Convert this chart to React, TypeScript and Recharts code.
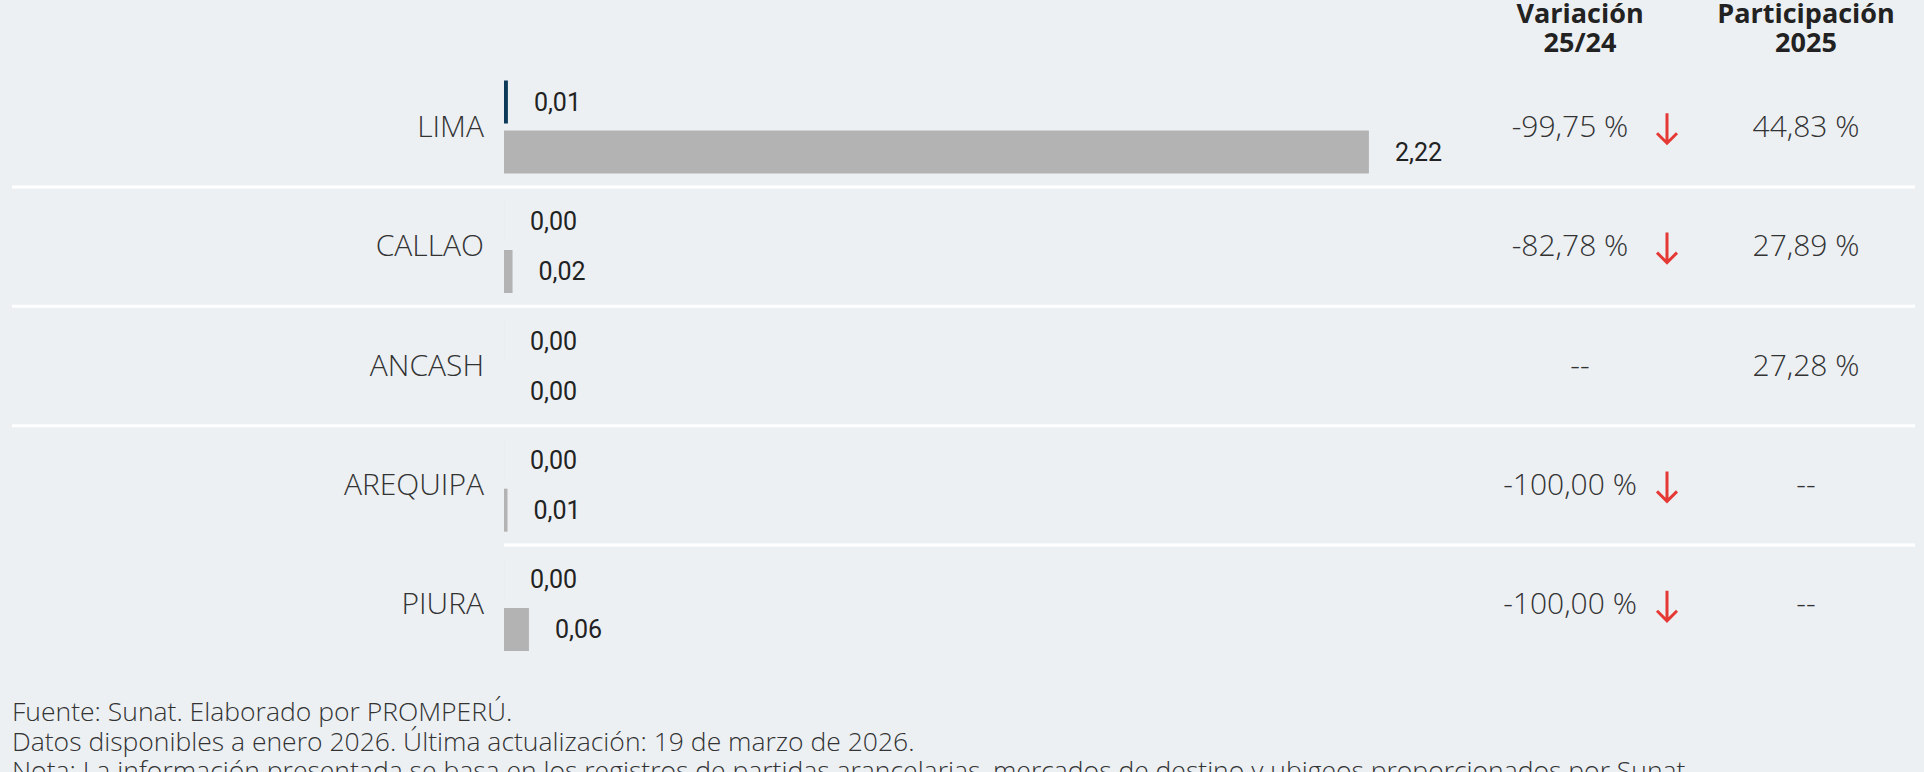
import { Bar, BarChart, LabelList, XAxis, YAxis } from "recharts";

const regions = ["LIMA", "CALLAO", "ANCASH", "AREQUIPA", "PIURA"];
const values2025 = [0.01, 0, 0, 0, 0];
const values2024 = [2.22, 0.022, 0, 0.009, 0.064];
const variacion = ["-99,75 %", "-82,78 %", "--", "-100,00 %", "-100,00 %"];
const bajada = [true, true, false, true, true];
const participacion = ["44,83 %", "27,89 %", "27,28 %", "--", "--"];
const notas = [
  "Fuente: Sunat. Elaborado por PROMPERÚ.",
  "Datos disponibles a enero 2026. Última actualización: 19 de marzo de 2026.",
  "Nota: La información presentada se basa en los registros de partidas arancelarias, mercados de destino y ubigeos proporcionados por Sunat.",
];

const data = regions.map((region, i) => ({
  region,
  y2025: values2025[i],
  y2024: values2024[i],
}));

const W = 1924;
const H = 772;
const TOP = 67.5;
const BOTTOM = 107.5;
const ROW_H = (H - TOP - BOTTOM) / regions.length;
const TEXT = "#333";
const LIGHT = "'Open Sans', 'Noto Sans', sans-serif";

const fmt = (v: any) => Number(v).toFixed(2).replace(".", ",");

function RowTick(props: any) {
  const { y, payload, index } = props;
  const i = regions.indexOf(payload.value);
  const line = index < regions.length - 1;
  const ty = y - 2;
  return (
    <g>
      <text x={484} y={ty} textAnchor="end" dominantBaseline="central" fontSize={30} fontWeight={300} fontFamily={LIGHT} fill={TEXT}>
        {payload.value}
      </text>
      {variacion[i] === "--" ? (
        <text x={1580} y={ty} textAnchor="middle" dominantBaseline="central" fontSize={30} fontWeight={300} fontFamily={LIGHT} fill={TEXT}>
          --
        </text>
      ) : (
        <text x={1570} y={ty} textAnchor="middle" dominantBaseline="central" fontSize={30} fontWeight={300} fontFamily={LIGHT} fill={TEXT}>
          {variacion[i]}
        </text>
      )}
      {bajada[i] && (
        <path
          d={`M1667,${y - 14} L1667,${y + 16} M1657,${y + 6} L1667,${y + 16} L1677,${y + 6}`}
          stroke="#e53935"
          strokeWidth={3}
          fill="none"
        />
      )}
      <text x={1806} y={ty} textAnchor="middle" dominantBaseline="central" fontSize={30} fontWeight={300} fontFamily={LIGHT} fill={TEXT}>
        {participacion[i]}
      </text>
      {line && (
        <line x1={index === 3 ? 504 : 12} x2={1915} y1={y + ROW_H / 2} y2={y + ROW_H / 2} stroke="#ffffff" strokeWidth={3} />
      )}
    </g>
  );
}

export default function App() {
  return (
    <div style={{ position: "relative", width: W, height: H, background: "#ecf0f3", overflow: "hidden" }}>
      <style>{`body{margin:0}`}</style>
      <BarChart
        width={W}
        height={H}
        data={data}
        layout="vertical"
        margin={{ top: TOP, right: 446, bottom: BOTTOM, left: 0 }}
        barSize={43}
        barGap={7}
      >
        <XAxis type="number" domain={[0, 2.5]} hide />
        <YAxis type="category" dataKey="region" width={504} axisLine={false} tickLine={false} tick={<RowTick />} interval={0} />
        <Bar dataKey="y2025" fill="#0d3a58" minPointSize={0.01} isAnimationActive={false}>
          <LabelList dataKey="y2025" position="right" offset={26} formatter={fmt} fill="#222" fontSize={25} fontFamily="Roboto, sans-serif" />
        </Bar>
        <Bar dataKey="y2024" fill="#b3b3b3" minPointSize={0.01} isAnimationActive={false}>
          <LabelList dataKey="y2024" position="right" offset={26} formatter={fmt} fill="#222" fontSize={25} fontFamily="Roboto, sans-serif" />
        </Bar>
      </BarChart>
      <svg width={W} height={H} style={{ position: "absolute", left: 0, top: 0, pointerEvents: "none" }}>
        <g fontFamily={LIGHT} fontWeight={700} fontSize={27} fill="#222" textAnchor="middle">
          <text x={1580} y={23}>Variación</text>
          <text x={1580} y={52}>25/24</text>
          <text x={1806} y={23}>Participación</text>
          <text x={1806} y={52}>2025</text>
        </g>
        <g fontFamily={LIGHT} fontWeight={300} fontSize={26.5} fill={TEXT}>
          {notas.map((t, i) => (
            <text key={i} x={12} y={721 + i * 29.5}>
              {t}
            </text>
          ))}
        </g>
      </svg>
    </div>
  );
}
